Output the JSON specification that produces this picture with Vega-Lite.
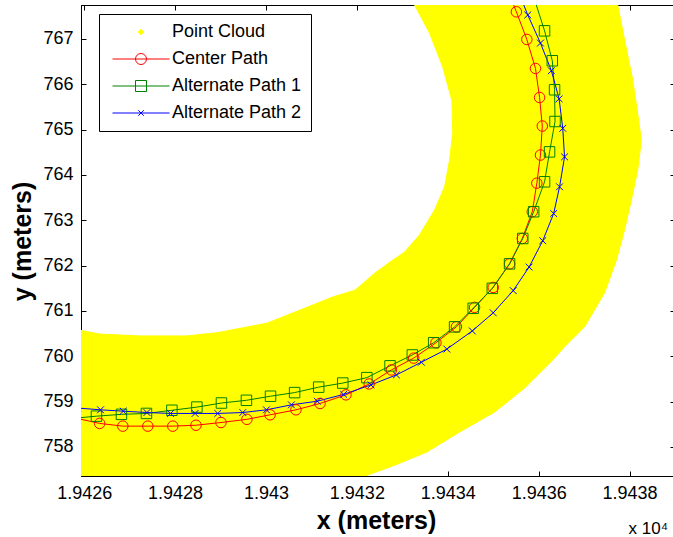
{
  "$schema": "https://vega.github.io/schema/vega-lite/v6.json",
  "width": 594,
  "height": 471,
  "autosize": "none",
  "padding": {"left": 81, "top": 5, "right": 0, "bottom": 61},
  "background": "white",
  "config": {
    "font": "Liberation Sans",
    "view": {"stroke": "black", "strokeWidth": 1},
    "axis": {
      "grid": false,
      "domainColor": "black",
      "domainWidth": 1,
      "tickColor": "black",
      "tickWidth": 1,
      "tickSize": -5,
      "labelFont": "Liberation Sans",
      "labelFontSize": 18,
      "labelColor": "black",
      "titleFont": "Liberation Sans",
      "titleFontSize": 25,
      "titleFontWeight": "bold",
      "titleColor": "black"
    }
  },
  "datasets": {
    "cloud": [
      {"x": 19425.69, "y": 757.05}, {"x": 19425.69, "y": 760.57}, {"x": 19425.93, "y": 760.57},
      {"x": 19426.35, "y": 760.49}, {"x": 19427.23, "y": 760.45}, {"x": 19428.26, "y": 760.45},
      {"x": 19428.92, "y": 760.52}, {"x": 19430.02, "y": 760.73}, {"x": 19430.75, "y": 761.02},
      {"x": 19431.47, "y": 761.31}, {"x": 19431.96, "y": 761.46}, {"x": 19432.40, "y": 761.84},
      {"x": 19432.73, "y": 762.08}, {"x": 19433.05, "y": 762.30}, {"x": 19433.38, "y": 762.68},
      {"x": 19433.71, "y": 763.23}, {"x": 19433.93, "y": 763.74}, {"x": 19434.04, "y": 764.33},
      {"x": 19434.11, "y": 764.93}, {"x": 19434.09, "y": 765.65}, {"x": 19433.89, "y": 766.38},
      {"x": 19433.60, "y": 767.13}, {"x": 19433.27, "y": 767.75}, {"x": 19433.19, "y": 767.97},
      {"x": 19437.76, "y": 767.97}, {"x": 19437.74, "y": 767.75}, {"x": 19437.89, "y": 766.98},
      {"x": 19438.07, "y": 766.10}, {"x": 19438.20, "y": 765.21}, {"x": 19438.26, "y": 764.77},
      {"x": 19438.18, "y": 764.11}, {"x": 19438.04, "y": 763.45}, {"x": 19437.89, "y": 762.79},
      {"x": 19437.71, "y": 762.12}, {"x": 19437.45, "y": 761.40}, {"x": 19437.01, "y": 760.65},
      {"x": 19436.57, "y": 760.21}, {"x": 19436.31, "y": 759.92}, {"x": 19435.69, "y": 759.30},
      {"x": 19435.03, "y": 758.77}, {"x": 19434.26, "y": 758.33}, {"x": 19433.54, "y": 757.89},
      {"x": 19432.84, "y": 757.60}, {"x": 19432.29, "y": 757.40}, {"x": 19431.85, "y": 757.23},
      {"x": 19431.41, "y": 757.05}
    ],
    "paths": [
      {"series": "Center Path", "x": 19425.80, "y": 758.64},
      {"series": "Center Path", "x": 19426.34, "y": 758.52},
      {"series": "Center Path", "x": 19426.85, "y": 758.46},
      {"series": "Center Path", "x": 19427.40, "y": 758.46},
      {"series": "Center Path", "x": 19427.95, "y": 758.46},
      {"series": "Center Path", "x": 19428.46, "y": 758.48},
      {"series": "Center Path", "x": 19429.01, "y": 758.54},
      {"series": "Center Path", "x": 19429.58, "y": 758.61},
      {"series": "Center Path", "x": 19430.09, "y": 758.71},
      {"series": "Center Path", "x": 19430.66, "y": 758.82},
      {"series": "Center Path", "x": 19431.19, "y": 758.96},
      {"series": "Center Path", "x": 19431.76, "y": 759.15},
      {"series": "Center Path", "x": 19432.27, "y": 759.39},
      {"series": "Center Path", "x": 19432.76, "y": 759.70},
      {"series": "Center Path", "x": 19433.25, "y": 759.96},
      {"series": "Center Path", "x": 19433.74, "y": 760.30},
      {"series": "Center Path", "x": 19434.19, "y": 760.65},
      {"series": "Center Path", "x": 19434.59, "y": 761.08},
      {"series": "Center Path", "x": 19435.00, "y": 761.52},
      {"series": "Center Path", "x": 19435.36, "y": 762.04},
      {"series": "Center Path", "x": 19435.64, "y": 762.60},
      {"series": "Center Path", "x": 19435.86, "y": 763.19},
      {"series": "Center Path", "x": 19435.96, "y": 763.82},
      {"series": "Center Path", "x": 19436.04, "y": 764.44},
      {"series": "Center Path", "x": 19436.08, "y": 765.08},
      {"series": "Center Path", "x": 19436.02, "y": 765.71},
      {"series": "Center Path", "x": 19435.93, "y": 766.35},
      {"series": "Center Path", "x": 19435.74, "y": 766.99},
      {"series": "Center Path", "x": 19435.51, "y": 767.60},
      {"series": "Center Path", "x": 19435.27, "y": 768.19},
      {"series": "Alternate Path 1", "x": 19425.74, "y": 758.63},
      {"series": "Alternate Path 1", "x": 19426.27, "y": 758.68},
      {"series": "Alternate Path 1", "x": 19426.82, "y": 758.72},
      {"series": "Alternate Path 1", "x": 19427.37, "y": 758.74},
      {"series": "Alternate Path 1", "x": 19427.93, "y": 758.81},
      {"series": "Alternate Path 1", "x": 19428.48, "y": 758.88},
      {"series": "Alternate Path 1", "x": 19429.02, "y": 758.97},
      {"series": "Alternate Path 1", "x": 19429.57, "y": 759.03},
      {"series": "Alternate Path 1", "x": 19430.10, "y": 759.12},
      {"series": "Alternate Path 1", "x": 19430.63, "y": 759.20},
      {"series": "Alternate Path 1", "x": 19431.16, "y": 759.32},
      {"series": "Alternate Path 1", "x": 19431.69, "y": 759.41},
      {"series": "Alternate Path 1", "x": 19432.22, "y": 759.53},
      {"series": "Alternate Path 1", "x": 19432.73, "y": 759.79},
      {"series": "Alternate Path 1", "x": 19433.22, "y": 760.03},
      {"series": "Alternate Path 1", "x": 19433.69, "y": 760.30},
      {"series": "Alternate Path 1", "x": 19434.15, "y": 760.65},
      {"series": "Alternate Path 1", "x": 19434.56, "y": 761.06},
      {"series": "Alternate Path 1", "x": 19434.98, "y": 761.50},
      {"series": "Alternate Path 1", "x": 19435.36, "y": 762.04},
      {"series": "Alternate Path 1", "x": 19435.65, "y": 762.60},
      {"series": "Alternate Path 1", "x": 19435.89, "y": 763.19},
      {"series": "Alternate Path 1", "x": 19436.13, "y": 763.85},
      {"series": "Alternate Path 1", "x": 19436.24, "y": 764.51},
      {"series": "Alternate Path 1", "x": 19436.36, "y": 765.18},
      {"series": "Alternate Path 1", "x": 19436.35, "y": 765.88},
      {"series": "Alternate Path 1", "x": 19436.30, "y": 766.52},
      {"series": "Alternate Path 1", "x": 19436.13, "y": 767.18},
      {"series": "Alternate Path 1", "x": 19435.90, "y": 767.90},
      {"series": "Alternate Path 2", "x": 19425.85, "y": 758.86},
      {"series": "Alternate Path 2", "x": 19426.36, "y": 758.82},
      {"series": "Alternate Path 2", "x": 19426.86, "y": 758.79},
      {"series": "Alternate Path 2", "x": 19427.38, "y": 758.76},
      {"series": "Alternate Path 2", "x": 19427.90, "y": 758.74},
      {"series": "Alternate Path 2", "x": 19428.44, "y": 758.74},
      {"series": "Alternate Path 2", "x": 19428.94, "y": 758.74},
      {"series": "Alternate Path 2", "x": 19429.49, "y": 758.76},
      {"series": "Alternate Path 2", "x": 19430.01, "y": 758.82},
      {"series": "Alternate Path 2", "x": 19430.56, "y": 758.93},
      {"series": "Alternate Path 2", "x": 19431.13, "y": 759.01},
      {"series": "Alternate Path 2", "x": 19431.71, "y": 759.16},
      {"series": "Alternate Path 2", "x": 19432.31, "y": 759.37},
      {"series": "Alternate Path 2", "x": 19432.87, "y": 759.59},
      {"series": "Alternate Path 2", "x": 19433.42, "y": 759.87},
      {"series": "Alternate Path 2", "x": 19433.98, "y": 760.16},
      {"series": "Alternate Path 2", "x": 19434.54, "y": 760.56},
      {"series": "Alternate Path 2", "x": 19435.00, "y": 760.96},
      {"series": "Alternate Path 2", "x": 19435.44, "y": 761.45},
      {"series": "Alternate Path 2", "x": 19435.79, "y": 761.97},
      {"series": "Alternate Path 2", "x": 19436.09, "y": 762.55},
      {"series": "Alternate Path 2", "x": 19436.33, "y": 763.15},
      {"series": "Alternate Path 2", "x": 19436.46, "y": 763.74},
      {"series": "Alternate Path 2", "x": 19436.57, "y": 764.40},
      {"series": "Alternate Path 2", "x": 19436.53, "y": 765.03},
      {"series": "Alternate Path 2", "x": 19436.45, "y": 765.68},
      {"series": "Alternate Path 2", "x": 19436.28, "y": 766.30},
      {"series": "Alternate Path 2", "x": 19436.04, "y": 766.91},
      {"series": "Alternate Path 2", "x": 19435.76, "y": 767.53},
      {"series": "Alternate Path 2", "x": 19435.52, "y": 768.13}
    ]
  },
  "layer": [
    {
      "data": {"name": "cloud"},
      "mark": {"type": "line", "fill": "#ffff00", "stroke": "#ffff00", "strokeWidth": 1, "clip": true},
      "encoding": {
        "x": {
          "field": "x", "type": "quantitative",
          "scale": {"domain": [19425.93, 19439.0], "nice": false, "zero": false},
          "axis": {
            "orient": "bottom",
            "values": [19426, 19428, 19430, 19432, 19434, 19436, 19438],
            "labelExpr": "format(datum.value / 10000, '.4~f')",
            "labelBaseline": "alphabetic",
            "labelPadding": 27,
            "labelFlush": false,
            "title": "x (meters)",
            "titleX": 295,
            "titleY": 52,
            "titleBaseline": "alphabetic",
            "titleAlign": "center",
            "titleAnchor": null
          }
        },
        "y": {
          "field": "y", "type": "quantitative",
          "scale": {"domain": [757.36, 767.75], "nice": false, "zero": false},
          "axis": {
            "orient": "left",
            "values": [758, 759, 760, 761, 762, 763, 764, 765, 766, 767],
            "labelPadding": 13,
            "labelFlush": false,
            "title": "y (meters)",
            "titleX": -59,
            "titleY": 236,
            "titleAngle": -90,
            "titleAlign": "center",
            "titleBaseline": "middle"
          }
        },
        "order": {"value": null}
      }
    },
    {
      "data": {"name": "paths"},
      "mark": {"type": "line", "strokeWidth": 1, "clip": true},
      "encoding": {
        "x": {"field": "x", "type": "quantitative", "axis": null},
        "y": {"field": "y", "type": "quantitative", "axis": null},
        "color": {
          "field": "series", "type": "nominal",
          "scale": {
            "domain": ["Point Cloud", "Center Path", "Alternate Path 1", "Alternate Path 2"],
            "range": ["#ffff00", "#ff0000", "#008000", "#0000ff"]
          },
          "legend": {
            "orient": "none",
            "legendX": 18,
            "legendY": 9,
            "title": null,
            "direction": "vertical",
            "strokeColor": "black",
            "fillColor": "white",
            "padding": 9,
            "labelFont": "Liberation Sans",
            "labelFontSize": 18,
            "labelColor": "black",
            "labelLimit": 400,
            "symbolSize": 100,
            "symbolOffset": 24,
            "labelOffset": 22,
            "rowPadding": 9,
            "symbolStrokeWidth": 1,
            "encode": {
              "symbols": {
                "update": {
                  "shape": {"signal": "datum.value === 'Point Cloud' ? 'M0,-0.55L0.55,0L0,0.55L-0.55,0Z' : datum.value === 'Center Path' ? 'M-5.7,0H5.7M1.1,0A1.1,1.1 0 1,1 -1.1,0A1.1,1.1 0 1,1 1.1,0' : datum.value === 'Alternate Path 1' ? 'M-5.7,0H5.7M-1.1,-1.1H1.1V1.1H-1.1Z' : 'M-5.7,0H5.7M-0.55,-0.55L0.55,0.55M-0.55,0.55L0.55,-0.55'"},
                  "fill": {"signal": "datum.value === 'Point Cloud' ? '#ffff00' : 'transparent'"},
                  "stroke": {"signal": "scale('color', datum.value)"},
                  "strokeWidth": {"value": 1},
                  "opacity": {"value": 1}
                }
              }
            }
          }
        },
        "order": {"value": null}
      }
    },
    {
      "data": {"name": "paths"},
      "mark": {"type": "point", "filled": false, "strokeWidth": 1, "size": 110, "opacity": 1, "clip": true},
      "encoding": {
        "x": {"field": "x", "type": "quantitative", "axis": null},
        "y": {"field": "y", "type": "quantitative", "axis": null},
        "color": {"field": "series", "type": "nominal"},
        "shape": {
          "field": "series", "type": "nominal",
          "scale": {
            "domain": ["Center Path", "Alternate Path 1", "Alternate Path 2"],
            "range": ["circle", "square", "M-0.65,-0.65L0.65,0.65M-0.65,0.65L0.65,-0.65"]
          },
          "legend": null
        }
      }
    },
    {
      "data": {"name": "cloud"},
      "mark": {"type": "point", "opacity": 0},
      "encoding": {
        "x": {
          "field": "x", "type": "quantitative",
          "axis": {
            "orient": "top",
            "values": [19426, 19428, 19430, 19432, 19434, 19436, 19438],
            "labels": false,
            "title": "x 10⁴",
            "titleFontSize": 17,
            "titleFontWeight": "normal",
            "titleX": 547,
            "titleY": 528,
            "titleAlign": "left",
            "titleBaseline": "alphabetic",
            "titleAngle": 0
          }
        },
        "y": {
          "field": "y", "type": "quantitative",
          "axis": {
            "orient": "right",
            "values": [758, 759, 760, 761, 762, 763, 764, 765, 766, 767],
            "labels": false,
            "title": null
          }
        }
      }
    }
  ],
  "resolve": {"axis": {"x": "independent", "y": "independent"}}
}
